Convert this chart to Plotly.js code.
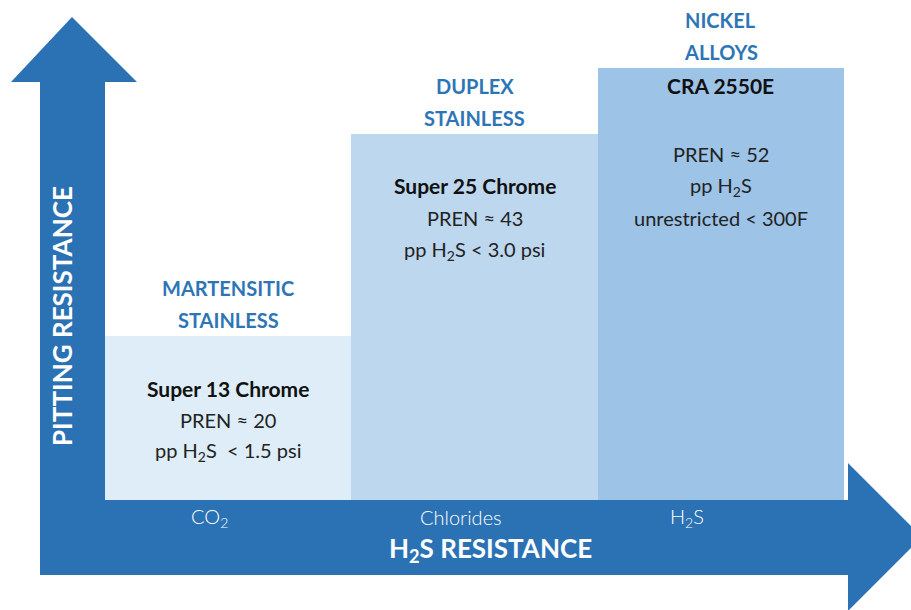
<!DOCTYPE html>
<html>
<head>
<meta charset="utf-8">
<script src="https://cdn.plot.ly/plotly-3.0.1.min.js"></script>
<style>html,body{margin:0;padding:0;background:#fff;}#chart{width:911px;height:610px;}</style>
</head>
<body>
<div id="chart"></div>
<script>
// ---- data ----
const categories = ['CO<sub>2</sub>', 'Chlorides', 'H<sub>2</sub>S'];
const pittingResistance = [19.7, 43.9, 51.8];
const families = [['MARTENSITIC', 'STAINLESS'], ['DUPLEX', 'STAINLESS'], ['NICKEL', 'ALLOYS']];
const grades = ['Super 13 Chrome', 'Super 25 Chrome', 'CRA 2550E'];
const details = [
  ['PREN ≈ 20', 'pp H<sub>2</sub>S &nbsp;&lt; 1.5 psi'],
  ['PREN ≈ 43', 'pp H<sub>2</sub>S &lt; 3.0 psi'],
  ['PREN ≈ 52', 'pp H<sub>2</sub>S', 'unrestricted &lt; 300F']
];
const barColors = ['#deedf7', '#bdd7ee', '#9dc3e6'];
const xTitle = 'H<sub>2</sub>S RESISTANCE';
const yTitle = 'PITTING RESISTANCE';

// ---- layout helpers ----
const W = 911, H = 610;
const M = {l: 105, r: 67, t: 0, b: 110};
const PW = W - M.l - M.r, PH = H - M.t - M.b;
const px = x => (x - M.l) / PW;
const py = y => (M.t + PH - y) / PH;
const arrowPts = [[40,575],[40,82],[11,82],[72,17],[137,82],[105,82],[105,500],[848,500],[848,463],[922,537],[848,611],[848,575]];
const arrowPath = 'M' + arrowPts.map(p => px(p[0]).toFixed(5) + ',' + py(p[1]).toFixed(5)).join(' L') + ' Z';
const arrowColor = '#2b72b5';
const headBlue = '#2e75b6';
const FONT = 'Lato, "Open Sans", sans-serif';

const annotations = [];
const gradeOffset = [53, 51, 17];
const detailOffset = [84, 84, 86];
const catShift = [-19, -14, -34];
categories.forEach((c, i) => {
  // family header above bar
  families[i].forEach((t, j) => {
    annotations.push({x: c, y: pittingResistance[i], xref: 'x', yref: 'y', text: t, showarrow: false,
      yanchor: 'middle', yshift: 48 - 32 * j, font: {family: FONT, size: 20, color: headBlue, weight: 'bold'}});
  });
  annotations.push({x: c, y: pittingResistance[i], xref: 'x', yref: 'y', text: grades[i], showarrow: false,
    yanchor: 'middle', yshift: -gradeOffset[i], font: {family: FONT, size: 21, color: '#111', weight: 'bold'}});
  details[i].forEach((t, j) => {
    annotations.push({x: c, y: pittingResistance[i], xref: 'x', yref: 'y', text: t, showarrow: false,
      yanchor: 'middle', yshift: -(detailOffset[i] + 32 * j), font: {family: FONT, size: 20, color: '#222'}});
  });
  annotations.push({x: c, y: 0, xref: 'x', yref: 'y', text: c, showarrow: false,
    yanchor: 'middle', yshift: -17, xshift: catShift[i], font: {family: FONT, size: 20, color: '#ffffff', weight: 300}});
});
annotations.push({x: px(490), y: py(549), xref: 'paper', yref: 'paper', text: xTitle, showarrow: false,
  xanchor: 'center', yanchor: 'middle', font: {family: FONT, size: 26, color: '#ffffff', weight: 'bold'}});
annotations.push({x: px(62), y: py(316), xref: 'paper', yref: 'paper', text: yTitle, showarrow: false, textangle: -90,
  xanchor: 'center', yanchor: 'middle', font: {family: FONT, size: 26, color: '#ffffff', weight: 'bold'}});

const trace = {
  type: 'bar', x: categories, y: pittingResistance,
  marker: {color: barColors, line: {width: 0}},
  width: 1, hoverinfo: 'skip'
};

const layout = {
  width: W, height: H,
  margin: M,
  paper_bgcolor: '#ffffff', plot_bgcolor: 'rgba(0,0,0,0)',
  showlegend: false, bargap: 0,
  xaxis: {type: 'category', range: [-0.5, 2.5], showticklabels: false, showgrid: false, zeroline: false, showline: false, ticks: '', fixedrange: true},
  yaxis: {range: [0, 60], visible: false, showgrid: false, zeroline: false, fixedrange: true},
  shapes: [{type: 'path', xref: 'paper', yref: 'paper', path: arrowPath, fillcolor: arrowColor, line: {width: 0}, layer: 'below'}],
  annotations: annotations
};

Plotly.newPlot('chart', [trace], layout, {staticPlot: true, displayModeBar: false});
</script>
</body>
</html>
